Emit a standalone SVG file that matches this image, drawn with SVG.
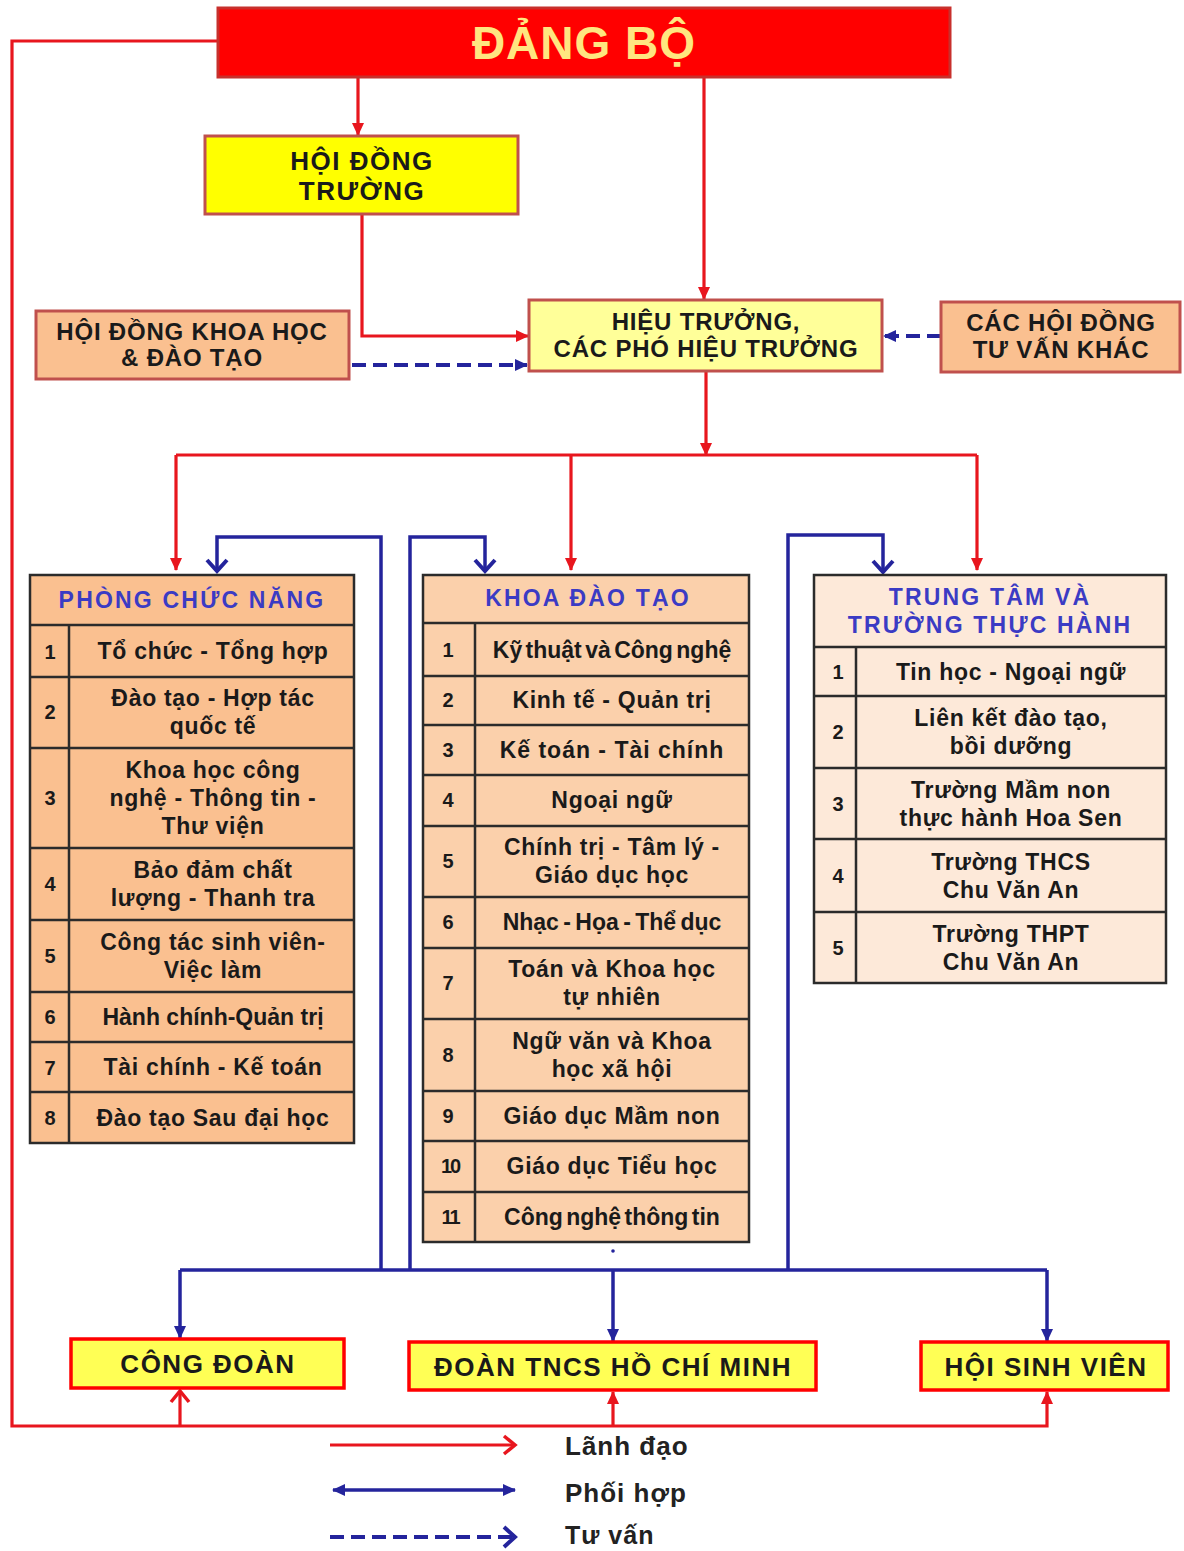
<svg xmlns="http://www.w3.org/2000/svg" width="1184" height="1551" viewBox="0 0 1184 1551">
<style>
text{font-family:"Liberation Sans",Arial,sans-serif;font-weight:bold;text-anchor:middle;fill:#1a1a1a}
.box{stroke:#c0504d;stroke-width:3}
.peach{fill:#fac090}
.r{fill:none;stroke:#e8161e;stroke-width:3.2}
.b{fill:none;stroke:#24249c;stroke-width:3.5}
.d{fill:none;stroke:#24249c;stroke-width:4;stroke-dasharray:14 7}
.tb{stroke:#2b2b2b;stroke-width:2.5}
.hd{fill:#3b3bc4;font-size:23px;letter-spacing:2.2px}
.it{font-size:23px;letter-spacing:0.7px}
.num{font-size:20px}
.bt{font-size:24px;letter-spacing:0.8px}
.ot{font-size:26px;letter-spacing:1.5px}
.bb{font-size:26px;letter-spacing:1.5px}
.lg{font-size:26px;letter-spacing:1px;text-anchor:start;fill:#222}
</style>
<defs>
<marker id="ra" markerUnits="userSpaceOnUse" markerWidth="14" markerHeight="12" refX="12" refY="6" orient="auto"><path d="M0,0 L13,6 L0,12 z" fill="#e8161e"/></marker>
<marker id="rc" markerUnits="userSpaceOnUse" markerWidth="16" markerHeight="22" refX="13" refY="11" orient="auto"><path d="M2,2 L13,11 L2,20" fill="none" stroke="#e8161e" stroke-width="3.5"/></marker>
<marker id="ba" markerUnits="userSpaceOnUse" markerWidth="14" markerHeight="12" refX="12" refY="6" orient="auto-start-reverse"><path d="M0,0 L13,6 L0,12 z" fill="#24249c"/></marker>
<marker id="bc" markerUnits="userSpaceOnUse" markerWidth="16" markerHeight="24" refX="13" refY="12" orient="auto"><path d="M2,2 L13,12 L2,22" fill="none" stroke="#24249c" stroke-width="4"/></marker>
</defs>
<rect width="1184" height="1551" fill="#ffffff"/>

<g id="connectors">
<path class="r" d="M218,41 H12 V1426 H1047 V1392" marker-end="url(#ra)"/>
<path class="r" d="M180,1426 V1391" marker-end="url(#rc)"/>
<path class="r" d="M613,1426 V1392" marker-end="url(#ra)"/>
<path class="r" d="M358,77 V135" marker-end="url(#ra)"/>
<path class="r" d="M704,77 V299" marker-end="url(#ra)"/>
<path class="r" d="M362,214 V336 H528" marker-end="url(#ra)"/>
<path class="r" d="M706,371 V455" marker-end="url(#ra)"/>
<path class="r" d="M176,455 H977"/>
<path class="r" d="M176,455 V570" marker-end="url(#ra)"/>
<path class="r" d="M571,455 V570" marker-end="url(#ra)"/>
<path class="r" d="M977,455 V570" marker-end="url(#ra)"/>
<path class="b" d="M381,1270 V537 H217 V571" marker-end="url(#bc)"/>
<path class="b" d="M410,1270 V537 H485 V571" marker-end="url(#bc)"/>
<path class="b" d="M788,1270 V535 H883 V572" marker-end="url(#bc)"/>
<path class="b" d="M180,1270 H1047"/>
<path class="b" d="M180,1270 V1338" marker-end="url(#ba)"/>
<path class="b" d="M613,1270 V1341" marker-end="url(#ba)"/>
<path class="b" d="M1047,1270 V1341" marker-end="url(#ba)"/>
<path class="d" d="M352,365 H527" marker-end="url(#ba)"/>
<path class="d" d="M941,336 H884" marker-end="url(#ba)"/>
<circle cx="613" cy="1251" r="1.8" fill="#24249c"/>
</g>

<g id="dang-bo">
<rect x="218" y="8" width="732" height="69" fill="#ff0000" stroke="#c8302c" stroke-width="3"/>
<text x="584" y="59" style="font-size:46px;letter-spacing:1px;fill:#ffe680">ĐẢNG BỘ</text>
</g>

<g id="hoi-dong-truong">
<rect class="box" x="205" y="136" width="313" height="78" fill="#ffff00"/>
<text class="ot" x="362" y="170">HỘI ĐỒNG</text>
<text class="ot" x="362" y="200">TRƯỜNG</text>
</g>

<g id="hoi-dong-khoa-hoc">
<rect class="box peach" x="36" y="311" width="313" height="68"/>
<text class="bt" x="192" y="340">HỘI ĐỒNG KHOA HỌC</text>
<text class="bt" x="192" y="366">&amp; ĐÀO TẠO</text>
</g>

<g id="hieu-truong">
<rect class="box" x="529" y="300" width="353" height="71" fill="#ffff99"/>
<text class="bt" x="706" y="330">HIỆU TRƯỞNG,</text>
<text class="bt" x="706" y="357">CÁC PHÓ HIỆU TRƯỞNG</text>
</g>

<g id="hoi-dong-tu-van">
<rect class="box peach" x="941" y="302" width="239" height="70"/>
<text class="bt" x="1061" y="331">CÁC HỘI ĐỒNG</text>
<text class="bt" x="1061" y="358">TƯ VẤN KHÁC</text>
</g>

<g id="phong-chuc-nang">
<rect class="tb" x="30" y="575" width="324" height="568" fill="#fac090"/>
<path class="tb" d="M30,625 H354 M30,677 H354 M30,748 H354 M30,848 H354 M30,920 H354 M30,992 H354 M30,1042 H354 M30,1092 H354 M69,625 V1143"/>
<text class="hd" x="192" y="608">PHÒNG CHỨC NĂNG</text>
<text class="num" x="50" y="659">1</text>
<text class="it" x="213" y="659">Tổ chức - Tổng hợp</text>
<text class="num" x="50" y="719">2</text>
<text class="it" x="213" y="706">Đào tạo - Hợp tác</text>
<text class="it" x="213" y="734">quốc tế</text>
<text class="num" x="50" y="805">3</text>
<text class="it" x="213" y="778">Khoa học công</text>
<text class="it" x="213" y="806">nghệ - Thông tin -</text>
<text class="it" x="213" y="834">Thư viện</text>
<text class="num" x="50" y="891">4</text>
<text class="it" x="213" y="878">Bảo đảm chất</text>
<text class="it" x="213" y="906">lượng - Thanh tra</text>
<text class="num" x="50" y="963">5</text>
<text class="it" x="213" y="950">Công tác sinh viên-</text>
<text class="it" x="213" y="978">Việc làm</text>
<text class="num" x="50" y="1024">6</text>
<text class="it" x="213" y="1025" style="letter-spacing:0px">Hành chính-Quản trị</text>
<text class="num" x="50" y="1075">7</text>
<text class="it" x="213" y="1075">Tài chính - Kế toán</text>
<text class="num" x="50" y="1125">8</text>
<text class="it" x="213" y="1126">Đào tạo Sau đại học</text>
</g>

<g id="khoa-dao-tao">
<rect class="tb" x="423" y="575" width="326" height="667" fill="#fbd0ab"/>
<path class="tb" d="M423,623 H749 M423,676 H749 M423,725 H749 M423,775 H749 M423,826 H749 M423,897 H749 M423,948 H749 M423,1019 H749 M423,1091 H749 M423,1141 H749 M423,1192 H749 M475,623 V1242"/>
<text class="hd" x="588" y="606">KHOA ĐÀO TẠO</text>
<text class="num" x="448" y="657">1</text>
<text class="it" x="612" y="658" style="word-spacing:-3px;letter-spacing:0px">Kỹ thuật và Công nghệ</text>
<text class="num" x="448" y="707">2</text>
<text class="it" x="612" y="708">Kinh tế - Quản trị</text>
<text class="num" x="448" y="757">3</text>
<text class="it" x="612" y="758" style="letter-spacing:1px">Kế toán - Tài chính</text>
<text class="num" x="448" y="807">4</text>
<text class="it" x="612" y="808">Ngoại ngữ</text>
<text class="num" x="448" y="868">5</text>
<text class="it" x="612" y="855">Chính trị - Tâm lý -</text>
<text class="it" x="612" y="883">Giáo dục học</text>
<text class="num" x="448" y="929">6</text>
<text class="it" x="612" y="930" style="word-spacing:-2px;letter-spacing:0px">Nhạc - Họa - Thể dục</text>
<text class="num" x="448" y="990">7</text>
<text class="it" x="612" y="977">Toán và Khoa học</text>
<text class="it" x="612" y="1005">tự nhiên</text>
<text class="num" x="448" y="1062">8</text>
<text class="it" x="612" y="1049">Ngữ văn và Khoa</text>
<text class="it" x="612" y="1077">học xã hội</text>
<text class="num" x="448" y="1123">9</text>
<text class="it" x="612" y="1124">Giáo dục Mầm non</text>
<text class="num" x="450" y="1173" style="letter-spacing:-2px">10</text>
<text class="it" x="612" y="1174">Giáo dục Tiểu học</text>
<text class="num" x="450" y="1224" style="letter-spacing:-2px">11</text>
<text class="it" x="612" y="1225" style="word-spacing:-3px;letter-spacing:0px">Công nghệ thông tin</text>
</g>

<g id="trung-tam">
<rect class="tb" x="814" y="575" width="352" height="408" fill="#fde9d9"/>
<path class="tb" d="M814,647 H1166 M814,696 H1166 M814,768 H1166 M814,839 H1166 M814,912 H1166 M856,647 V983"/>
<text class="hd" x="990" y="605">TRUNG TÂM VÀ</text>
<text class="hd" x="990" y="633">TRƯỜNG THỰC HÀNH</text>
<text class="num" x="838" y="679">1</text>
<text class="it" x="1011" y="680">Tin học - Ngoại ngữ</text>
<text class="num" x="838" y="739">2</text>
<text class="it" x="1011" y="726">Liên kết đào tạo,</text>
<text class="it" x="1011" y="754">bồi dưỡng</text>
<text class="num" x="838" y="811">3</text>
<text class="it" x="1011" y="798">Trường Mầm non</text>
<text class="it" x="1011" y="826">thực hành Hoa Sen</text>
<text class="num" x="838" y="883">4</text>
<text class="it" x="1011" y="870">Trường THCS</text>
<text class="it" x="1011" y="898">Chu Văn An</text>
<text class="num" x="838" y="955">5</text>
<text class="it" x="1011" y="942">Trường THPT</text>
<text class="it" x="1011" y="970">Chu Văn An</text>
</g>

<g id="cong-doan">
<rect x="71" y="1339" width="273" height="49" fill="#ffff55" stroke="#ff0000" stroke-width="3.5"/>
<text class="bb" x="208" y="1373">CÔNG ĐOÀN</text>
</g>
<g id="doan-tncs">
<rect x="409" y="1342" width="407" height="48" fill="#ffff55" stroke="#ff0000" stroke-width="3.5"/>
<text class="bb" x="613" y="1376">ĐOÀN TNCS HỒ CHÍ MINH</text>
</g>
<g id="hoi-sinh-vien">
<rect x="921" y="1342" width="247" height="48" fill="#ffff55" stroke="#ff0000" stroke-width="3.5"/>
<text class="bb" x="1046" y="1376">HỘI SINH VIÊN</text>
</g>

<g id="legend">
<path class="r" d="M330,1445 H515" marker-end="url(#rc)"/>
<text class="lg" x="565" y="1455">Lãnh đạo</text>
<path class="b" d="M333,1490 H515" marker-start="url(#ba)" marker-end="url(#ba)"/>
<text class="lg" x="565" y="1502">Phối hợp</text>
<path class="d" d="M330,1537 H515" marker-end="url(#bc)"/>
<text class="lg" x="565" y="1544" style="font-size:25px">Tư vấn</text>
</g>
</svg>
